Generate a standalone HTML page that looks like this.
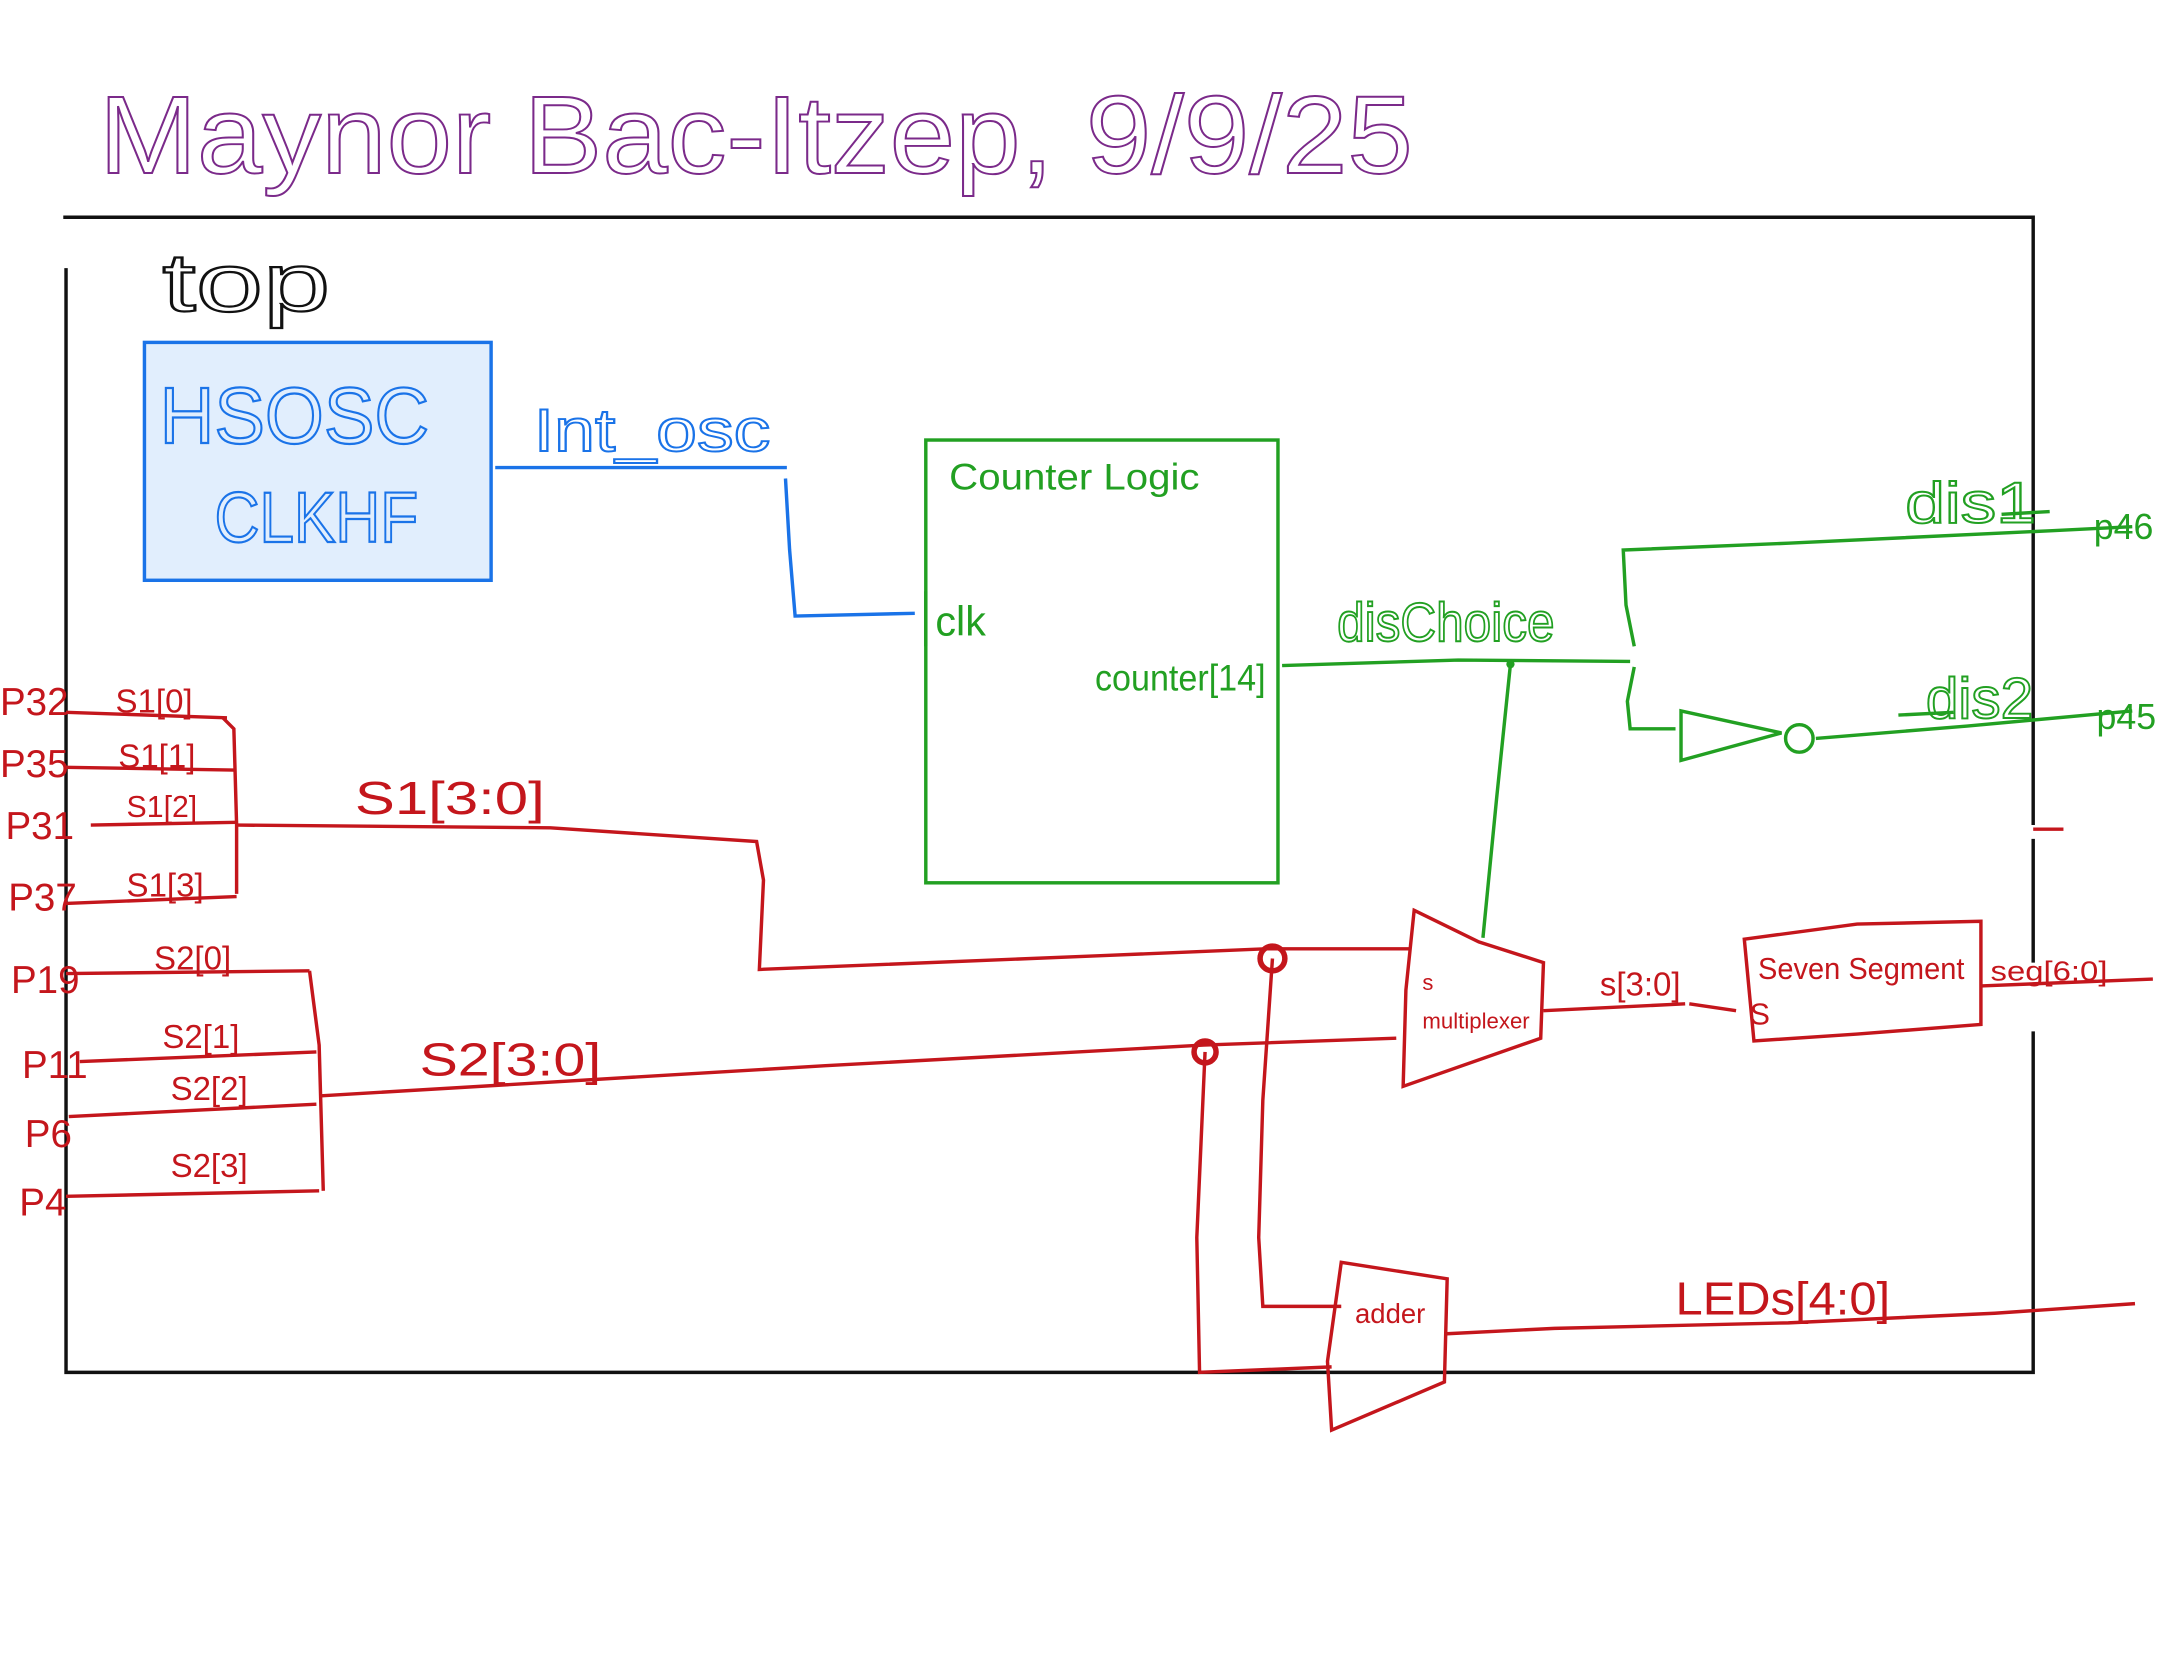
<!DOCTYPE html>
<html><head><meta charset="utf-8"><style>
html,body{margin:0;padding:0;background:#fff;}
svg{display:block;}
text{font-family:"Liberation Sans",sans-serif;}
</style></head><body>
<svg width="2157" height="1668" viewBox="0 0 1568 1213" preserveAspectRatio="none" xmlns="http://www.w3.org/2000/svg">
<rect width="1568" height="1213" fill="#fff"/>
<text x="72" y="126" font-size="80" fill="none" stroke="#7b2a8a" stroke-width="1.4" textLength="955" lengthAdjust="spacingAndGlyphs">Maynor  Bac-Itzep, 9/9/25</text>
<g stroke="#111" stroke-width="2.5" fill="none">
<path d="M46 158 L1478 158 L1478 600"/>
<path d="M1478 610 L1478 700"/>
<path d="M1478 750 L1478 998 L48 998 L48 195"/>
</g>
<text x="118" y="226" font-size="60" fill="none" stroke="#111" stroke-width="1.6" textLength="122" lengthAdjust="spacingAndGlyphs">top</text>
<rect x="105" y="249" width="252" height="173" fill="#e1eefd" stroke="#1a73e8" stroke-width="2.5"/>
<text x="116" y="322" font-size="58" fill="none" stroke="#1a73e8" stroke-width="1.6" textLength="196" lengthAdjust="spacingAndGlyphs">HSOSC</text>
<text x="156" y="394" font-size="52" fill="none" stroke="#1a73e8" stroke-width="1.6" textLength="148" lengthAdjust="spacingAndGlyphs">CLKHF</text>
<g stroke="#1a73e8" stroke-width="2.5" fill="none">
<path d="M360 340 L572 340"/>
<path d="M571 348 L574 400 L578 448 L665 446"/>
</g>
<text x="388" y="328" font-size="44" fill="none" stroke="#1a73e8" stroke-width="1.4" textLength="172" lengthAdjust="spacingAndGlyphs">Int_osc</text>
<rect x="673" y="320" width="256" height="322" fill="none" stroke="#22a022" stroke-width="2.5"/>
<text x="690" y="356" font-size="27" fill="#22a022" textLength="182" lengthAdjust="spacingAndGlyphs">Counter Logic</text>
<path d="M673 430 L673 470" stroke="#22a022" stroke-width="2.5"/>
<text x="680" y="462" font-size="30" fill="#22a022">clk</text>
<text x="796" y="502" font-size="27" fill="#22a022" textLength="124" lengthAdjust="spacingAndGlyphs">counter[14]</text>
<g stroke="#22a022" stroke-width="2.5" fill="none">
<path d="M932 484 L1060 480 L1185 481"/>
<path d="M1098 483 L1088 580 L1078 682"/>
<path d="M1188 470 L1182 440 L1180 400 L1300 395 L1490 386 L1550 383"/>
<path d="M1188 485 L1183 510 L1185 530 L1218 530"/>
<path d="M1222 517 L1295 533 L1222 553 Z"/>
<path d="M1320 537 L1430 528 L1550 517"/>
<path d="M1455 374 L1490 372"/>
<path d="M1380 520 L1420 518"/>
</g>
<circle cx="1308" cy="537" r="10" fill="none" stroke="#22a022" stroke-width="2.5"/>
<circle cx="1098" cy="483" r="3" fill="#22a022"/>
<text x="972" y="466" font-size="40" fill="none" stroke="#22a022" stroke-width="1.4" textLength="158" lengthAdjust="spacingAndGlyphs">disChoice</text>
<text x="1385" y="380" font-size="42" fill="none" stroke="#22a022" stroke-width="1.4" textLength="95" lengthAdjust="spacingAndGlyphs">dis1</text>
<text x="1522" y="392" font-size="26" fill="#22a022">p46</text>
<text x="1400" y="522" font-size="42" fill="none" stroke="#22a022" stroke-width="1.4" textLength="78" lengthAdjust="spacingAndGlyphs">dis2</text>
<text x="1524" y="530" font-size="26" fill="#22a022">p45</text>
<g fill="#c4161c" font-size="28">
<text x="0" y="520">P32</text>
<text x="0" y="565">P35</text>
<text x="4" y="610">P31</text>
<text x="6" y="662">P37</text>
<text x="8" y="722">P19</text>
<text x="16" y="784">P11</text>
<text x="18" y="834">P6</text>
<text x="14" y="884">P4</text>
<text x="84" y="518" font-size="24">S1[0]</text>
<text x="86" y="558" font-size="24">S1[1]</text>
<text x="92" y="594" font-size="22">S1[2]</text>
<text x="92" y="652" font-size="24">S1[3]</text>
<text x="112" y="705" font-size="24">S2[0]</text>
<text x="118" y="762" font-size="24">S2[1]</text>
<text x="124" y="800" font-size="24">S2[2]</text>
<text x="124" y="856" font-size="24">S2[3]</text>
<text x="258" y="592" font-size="34" textLength="138" lengthAdjust="spacingAndGlyphs">S1[3:0]</text>
<text x="305" y="782" font-size="34" textLength="132" lengthAdjust="spacingAndGlyphs">S2[3:0]</text>
<text x="1034" y="720" font-size="16">s</text>
<text x="1034" y="748" font-size="16" textLength="78" lengthAdjust="spacingAndGlyphs">multiplexer</text>
<text x="1163" y="724" font-size="24">s[3:0]</text>
<text x="1278" y="712" font-size="22" textLength="150" lengthAdjust="spacingAndGlyphs">Seven Segment</text>
<text x="1272" y="745" font-size="22">S</text>
<text x="1447" y="713" font-size="20" textLength="85" lengthAdjust="spacingAndGlyphs">seg[6:0]</text>
<text x="985" y="962" font-size="20">adder</text>
<text x="1218" y="956" font-size="34" textLength="156" lengthAdjust="spacingAndGlyphs">LEDs[4:0]</text>
</g>
<g stroke="#c4161c" stroke-width="2.5" fill="none">
<path d="M48 518 L165 522"/><path d="M48 558 L170 560"/><path d="M66 600 L172 598"/><path d="M48 657 L172 652"/>
<path d="M162 522 L170 530 L172 600 L172 650"/>
<path d="M172 600 L400 602 L550 612 L555 640 L552 705 L800 695 L920 690 L1025 690"/>
<path d="M48 708 L225 706"/><path d="M58 772 L230 765"/><path d="M50 812 L230 803"/><path d="M48 870 L232 866"/>
<path d="M225 706 L232 760 L235 866"/>
<path d="M232 797 L600 775 L875 760 L1015 755"/>
<path d="M925 697 L918 800 L915 900 L918 950 L975 950"/>
<path d="M876 765 L870 900 L872 998 L968 994"/>
<path d="M1028 662 L1075 685 L1122 700 L1120 755 L1020 790 L1022 720 Z"/>
<path d="M1122 735 L1225 730"/><path d="M1228 730 L1262 735"/>
<path d="M1268 683 L1350 672 L1440 670 L1440 745 L1350 752 L1275 757 Z"/>
<path d="M1440 717 L1565 712"/>
<path d="M975 918 L1052 930 L1050 1005 L968 1040 L965 990 Z"/>
<path d="M1050 970 L1130 966 L1300 962 L1450 955 L1552 948"/>
<path d="M1478 603 L1500 603"/>
</g>
<circle cx="925" cy="697" r="9" fill="none" stroke="#c4161c" stroke-width="4"/>
<circle cx="876" cy="765" r="8" fill="none" stroke="#c4161c" stroke-width="4"/>
</svg>
</body></html>
